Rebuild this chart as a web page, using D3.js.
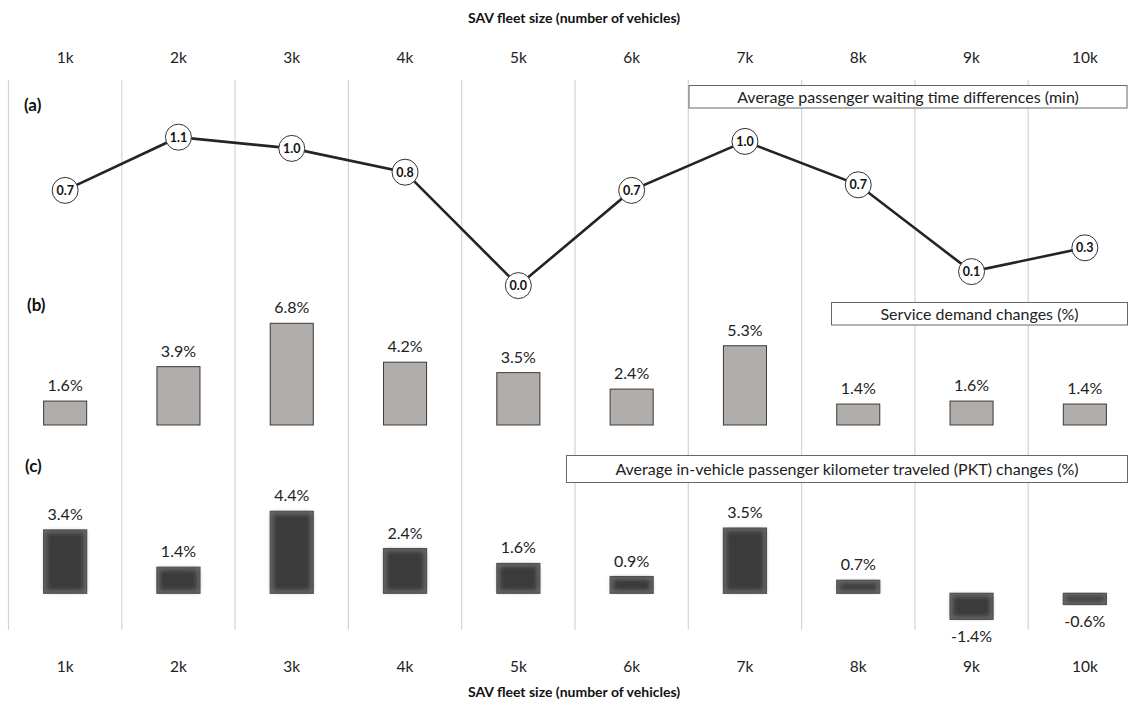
<!DOCTYPE html>
<html>
<head>
<meta charset="utf-8">
<script src="https://cdn.jsdelivr.net/npm/d3@7"></script>
<style>
  html, body { margin: 0; padding: 0; background: #fff; }
  svg { display: block; font-family: Lato, "Open Sans", sans-serif; }
</style>
</head>
<body>
<svg id="chart" width="1136" height="709"></svg>
<script>
const categories = ["1k", "2k", "3k", "4k", "5k", "6k", "7k", "8k", "9k", "10k"];
const waitValues = [0.69, 1.07, 0.99, 0.82, 0.01, 0.69, 1.04, 0.73, 0.11, 0.28];
const demandValues = [1.6, 3.9, 6.8, 4.2, 3.5, 2.4, 5.3, 1.4, 1.6, 1.4];
const pktValues = [3.4, 1.4, 4.4, 2.4, 1.6, 0.9, 3.5, 0.7, -1.4, -0.6];
const panelLabels = ["(a)", "(b)", "(c)"];
const legendTexts = [
  "Average passenger waiting time differences (min)",
  "Service demand changes (%)",
  "Average in-vehicle passenger kilometer traveled (PKT) changes (%)"
];
const axisTitle = "SAV fleet size (number of vehicles)";

const svg = d3.select("#chart");

const x = d3.scaleBand().domain(categories).range([8.5, 1141.5]).padding(0);
const cx = c => x(c) + x.bandwidth() / 2;
const barW = x.bandwidth() * 0.38;

// defs: soft dark bar effect
const defs = svg.append("defs");
const f = defs.append("filter").attr("id", "soft").attr("x", "-10%").attr("y", "-10%").attr("width", "120%").attr("height", "120%");
f.append("feMorphology").attr("in", "SourceAlpha").attr("operator", "erode").attr("radius", 3).attr("result", "er");
f.append("feGaussianBlur").attr("in", "er").attr("stdDeviation", 2.4).attr("result", "bl");
f.append("feFlood").attr("flood-color", "#3b3b3b").attr("result", "fl");
f.append("feComposite").attr("in", "fl").attr("in2", "bl").attr("operator", "in").attr("result", "inner");
const fm = f.append("feMerge");
fm.append("feMergeNode").attr("in", "SourceGraphic");
fm.append("feMergeNode").attr("in", "inner");

// grid lines
svg.append("g").selectAll("line").data(categories).join("line")
  .attr("x1", d => x(d)).attr("x2", d => x(d))
  .attr("y1", 80).attr("y2", 630)
  .attr("stroke", "#d4d4d4").attr("stroke-width", 1.2);

// axes
const topAxis = svg.append("g").attr("transform", "translate(0,63)")
  .call(d3.axisTop(x).tickSize(0).tickPadding(0));
const botAxis = svg.append("g").attr("transform", "translate(0,661)")
  .call(d3.axisBottom(x).tickSize(0).tickPadding(0));
[topAxis, botAxis].forEach(g => {
  g.select(".domain").remove();
  g.selectAll("text").attr("font-size", 15.5).attr("fill", "#222").attr("font-family", "Lato, sans-serif");
});
botAxis.selectAll("text").attr("dy", "0.71em").attr("y", 0);

svg.append("text").attr("x", 574).attr("y", 23).attr("text-anchor", "middle")
  .attr("font-size", 14).attr("font-weight", "bold").attr("fill", "#111").text(axisTitle);
svg.append("text").attr("x", 574).attr("y", 697).attr("text-anchor", "middle")
  .attr("font-size", 14).attr("font-weight", "bold").attr("fill", "#111").text(axisTitle);

// panel labels
const panelPos = [[24, 111], [27, 311], [25, 472]];
svg.append("g").selectAll("text").data(panelLabels).join("text")
  .attr("x", (d, i) => panelPos[i][0]).attr("y", (d, i) => panelPos[i][1])
  .attr("font-size", 17).attr("font-weight", "bold").attr("fill", "#111").text(d => d);

// legend boxes
const boxes = [[689, 85.5, 438, 22.5], [831.5, 302.5, 296, 22.5], [566.5, 455.5, 561, 27]];
const lg = svg.append("g").selectAll("g").data(legendTexts).join("g");
lg.append("rect")
  .attr("x", (d, i) => boxes[i][0]).attr("y", (d, i) => boxes[i][1])
  .attr("width", (d, i) => boxes[i][2]).attr("height", (d, i) => boxes[i][3])
  .attr("fill", "#fff").attr("stroke", "#666").attr("stroke-width", 1);
lg.append("text")
  .attr("x", (d, i) => boxes[i][0] + boxes[i][2] / 2)
  .attr("y", (d, i) => boxes[i][1] + boxes[i][3] / 2)
  .attr("dy", "0.36em").attr("text-anchor", "middle")
  .attr("font-size", 16).attr("fill", "#222").text(d => d);

// Panel (a): line
const ya = d3.scaleLinear().domain([0, 1]).range([287, 147]);
const lineData = categories.map((c, i) => ({ c, v: waitValues[i] }));
svg.append("path").datum(lineData)
  .attr("d", d3.line().x(d => cx(d.c)).y(d => ya(d.v)))
  .attr("fill", "none").attr("stroke", "#242424").attr("stroke-width", 2.6);
const pts = svg.append("g").selectAll("g").data(lineData).join("g")
  .attr("transform", d => `translate(${cx(d.c)},${ya(d.v)})`);
pts.append("circle").attr("r", 13).attr("fill", "#fff").attr("stroke", "#333").attr("stroke-width", 1);
pts.append("text").attr("text-anchor", "middle").attr("dy", "0.36em")
  .attr("font-size", 12.5).attr("font-weight", "bold").attr("fill", "#111")
  .text(d => d3.format(".1f")(d.v));

// Panel (b): bars
const yb = d3.scaleLinear().domain([0, 6.8]).range([425, 323.3]);
const bData = categories.map((c, i) => ({ c, v: demandValues[i] }));
svg.append("g").selectAll("rect").data(bData).join("rect")
  .attr("x", d => cx(d.c) - barW / 2).attr("width", barW)
  .attr("y", d => yb(Math.max(0, d.v))).attr("height", d => Math.abs(yb(d.v) - yb(0)))
  .attr("fill", "#b0adab").attr("stroke", "#3a3a3a").attr("stroke-width", 1);
svg.append("g").selectAll("text").data(bData).join("text")
  .attr("x", d => cx(d.c)).attr("y", d => yb(d.v) - 10)
  .attr("text-anchor", "middle").attr("font-size", 16).attr("fill", "#222")
  .text(d => d.v.toFixed(1) + "%");

// Panel (c): bars
const yc = d3.scaleLinear().domain([0, 4.4]).range([593.3, 511.3]);
const cData = categories.map((c, i) => ({ c, v: pktValues[i] }));
svg.append("g").selectAll("rect").data(cData).join("rect")
  .attr("x", d => cx(d.c) - barW / 2).attr("width", barW)
  .attr("y", d => yc(Math.max(0, d.v))).attr("height", d => Math.abs(yc(d.v) - yc(0)))
  .attr("fill", "#6a6a6a").attr("stroke", "#555").attr("stroke-width", 1.2)
  .attr("filter", "url(#soft)");
svg.append("g").selectAll("text").data(cData).join("text")
  .attr("x", d => cx(d.c))
  .attr("y", d => d.v >= 0 ? yc(d.v) - 10 : yc(d.v) + 23)
  .attr("text-anchor", "middle").attr("font-size", 16).attr("fill", "#222")
  .text(d => d.v.toFixed(1) + "%");
</script>
</body>
</html>
